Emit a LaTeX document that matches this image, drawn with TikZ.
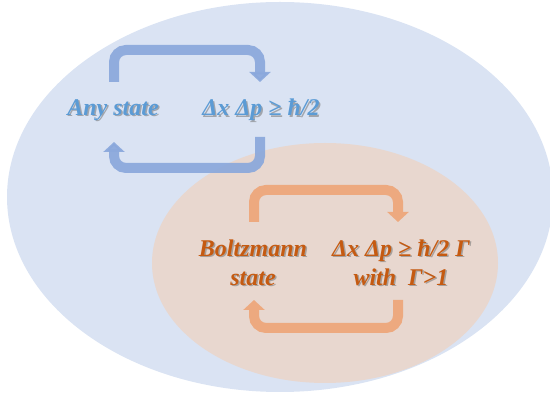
\documentclass[tikz,border=0pt]{standalone}
\usepackage{fontspec}
\setmainfont{Liberation Serif}
\usetikzlibrary{arrows.meta}
\definecolor{bigfill}{HTML}{DAE3F3}
\definecolor{smallfill}{HTML}{E8D7CF}
\definecolor{bluearrow}{HTML}{8AA8DC}
\definecolor{orangearrow}{HTML}{EDA97F}
\definecolor{bluetext}{HTML}{5B9BD5}
\definecolor{orangetext}{HTML}{C55A11}
\tikzset{
  loopA/.style={draw=bluearrow, line width=10pt, rounded corners=12pt, opacity=0.92,
    -{Triangle[width=21pt,length=10pt]}},
  loopB/.style={draw=orangearrow, line width=10pt, rounded corners=12pt,
    -{Triangle[width=21pt,length=10pt]}},
  lbl/.style={font=\fontsize{24}{29}\selectfont\bfseries\itshape, align=center, inner sep=0pt},
  shd/.style={lbl, text=black!55, opacity=0.55}
}
\begin{document}
\begin{tikzpicture}[x=1pt,y=-1pt]
\useasboundingbox (0,0) rectangle (550,403);
% ellipses
\fill[bigfill] (280,197) ellipse [x radius=273, y radius=195];
\fill[smallfill] (325,263) ellipse [x radius=173, y radius=120];
% coordinates of loops
\coordinate (a1) at (114,82);
\coordinate (a2) at (260,82);
\coordinate (a3) at (260,137);
\coordinate (a4) at (114,142);
\coordinate (b1) at (254,222);
\coordinate (b2) at (398,222);
\coordinate (b3) at (398,300);
\coordinate (b4) at (254,300);
% orange loops
\draw[loopB] (b1) -- (b1 |- 0,190) -- (b2 |- 0,190) -- (b2);
\draw[loopB] (b3) -- (b3 |- 0,328) -- (b4 |- 0,328) -- (b4);
% blue loops
\draw[loopA] (a1) -- (a1 |- 0,50) -- (a2 |- 0,50) -- (a2);
\draw[loopA] (a3) -- (a3 |- 0,168) -- (a4 |- 0,168) -- (a4);
% labels with shadows
\node[shd] (s1) at (114.5,111.5) {Any state};
\node[lbl, text=bluetext] (t1) at (113,110) {Any state};
\node[shd] (s2) at (262.5,111.5) {Δx Δp ≥ ħ/2};
\node[lbl, text=bluetext] (t2) at (261,110) {Δx Δp ≥ ħ/2};
\node[shd] (s3) at (254.5,264) {Boltzmann\\state};
\node[lbl, text=orangetext] (t3) at (253,262.5) {Boltzmann\\state};
\node[shd] (s4) at (402.5,264) {Δx Δp ≥ ħ/2 Γ\\with\ \ Γ>1};
\node[lbl, text=orangetext] (t4) at (401,262.5) {Δx Δp ≥ ħ/2 Γ\\with\ \ Γ>1};
\end{tikzpicture}
\end{document}
